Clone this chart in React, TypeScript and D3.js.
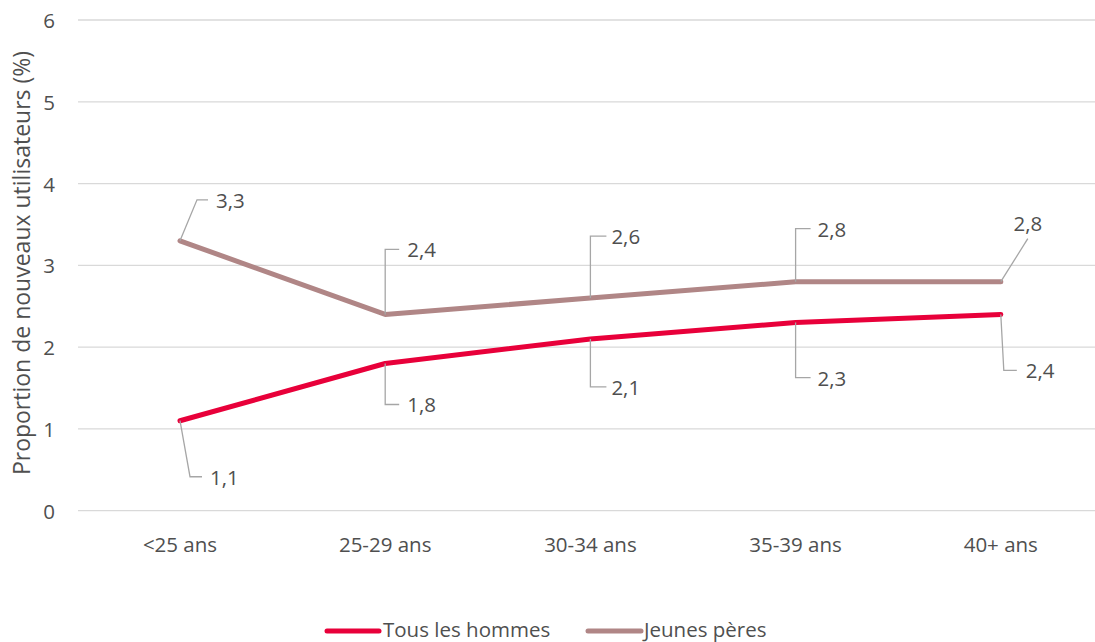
import React from "react";
import * as d3 from "d3";

// Age groups on the x axis
const categories: string[] = ["<25 ans", "25-29 ans", "30-34 ans", "35-39 ans", "40+ ans"];
// Share of new users (%) per age group
const tousLesHommes: number[] = [1.1, 1.8, 2.1, 2.3, 2.4];
const jeunesPeres: number[] = [3.3, 2.4, 2.6, 2.8, 2.8];
const yTicks: number[] = [0, 1, 2, 3, 4, 5, 6];
const seriesNames: string[] = ["Tous les hommes", "Jeunes pères"];

// Leader-line geometry for the data labels: [leaderEndDx, leaderEndDy, hookLength, textGap]
const labelLayoutPeres: [number, number, number, number][] = [
  [17, -41, 11, 8],
  [0, -65, 14, 8],
  [0, -62, 16, 5],
  [0, -53, 15, 7],
  [27, -43, 0, 0],
];
const labelLayoutHommes: [number, number, number, number][] = [
  [10, 56, 12, 8],
  [0, 41, 14, 8],
  [0, 48, 16, 5],
  [0, 55, 15, 7],
  [3, 56, 13, 9],
];

const W = 1095;
const H = 642;
const FONT = "'Open Sans', 'Liberation Sans', sans-serif";
const FS = 20.5;
const TEXT = "#4F4F4F";
const GRID = "#D9D9D9";
const LEADER = "#A6A6A6";
const RED = "#E8003A";
const BROWN = "#B08686";

const fmt = (v: number) => v.toFixed(1).replace(".", ",");

export default function App() {
  const x = d3.scaleBand<string>().domain(categories).range([77.4, 1103.4]).padding(0);
  const cx = (c: string) => (x(c) ?? 0) + x.bandwidth() / 2;
  const y = d3.scaleLinear().domain([0, 6]).range([510.7, 20]);

  const line = d3
    .line<number>()
    .x((_, i) => cx(categories[i]))
    .y((d) => y(d));

  const renderLabels = (values: number[], layout: [number, number, number, number][]) =>
    values.map((v, i) => {
      const px = cx(categories[i]);
      const py = y(v);
      const [dx, dy, hook, gap] = layout[i];
      const ex = px + dx;
      const ey = py + dy;
      if (hook === 0) {
        // leader ends under the label text
        return (
          <g key={i}>
            <path d={`M${px},${py}L${ex},${ey}`} stroke={LEADER} strokeWidth={1.3} fill="none" />
            <text x={ex} y={ey - 16} textAnchor="middle" dominantBaseline="central" fontSize={FS} fill={TEXT} fontFamily={FONT}>
              {fmt(v)}
            </text>
          </g>
        );
      }
      return (
        <g key={i}>
          <path d={`M${px},${py}L${ex},${ey}L${ex + hook},${ey}`} stroke={LEADER} strokeWidth={1.3} fill="none" />
          <text x={ex + hook + gap} y={ey} dominantBaseline="central" fontSize={FS} fill={TEXT} fontFamily={FONT}>
            {fmt(v)}
          </text>
        </g>
      );
    });

  return (
    <div style={{ position: "absolute", left: 0, top: 0 }}>
      <svg width={W} height={H} style={{ display: "block", background: "#fff" }}>
        {/* grid */}
        {yTicks.map((t) => (
          <line key={t} x1={78} x2={1104} y1={y(t)} y2={y(t)} stroke={GRID} strokeWidth={1.3} />
        ))}
        {/* y tick labels */}
        {yTicks.map((t) => (
          <text key={t} x={55} y={y(t)} textAnchor="end" dominantBaseline="central" fontSize={FS} fill={TEXT} fontFamily={FONT}>
            {t}
          </text>
        ))}
        {/* y axis title */}
        <text
          transform="translate(21,263) rotate(-90)"
          textAnchor="middle"
          dominantBaseline="central"
          fontSize={23}
          fill={TEXT}
          fontFamily={FONT}
        >
          Proportion de nouveaux utilisateurs (%)
        </text>
        {/* x labels */}
        {categories.map((c) => (
          <text key={c} x={cx(c)} y={544} textAnchor="middle" dominantBaseline="central" fontSize={FS} fill={TEXT} fontFamily={FONT}>
            {c}
          </text>
        ))}
        {/* lines */}
        <path d={line(jeunesPeres) ?? ""} stroke={BROWN} strokeWidth={5} fill="none" strokeLinejoin="round" strokeLinecap="round" />
        <path d={line(tousLesHommes) ?? ""} stroke={RED} strokeWidth={5} fill="none" strokeLinejoin="round" strokeLinecap="round" />
        {/* data labels */}
        {renderLabels(jeunesPeres, labelLayoutPeres)}
        {renderLabels(tousLesHommes, labelLayoutHommes)}
        {/* legend */}
        <g>
          <line x1={327} x2={379} y1={631} y2={631} stroke={RED} strokeWidth={5} strokeLinecap="round" />
          <text x={383} y={629} dominantBaseline="central" fontSize={FS} fill={TEXT} fontFamily={FONT}>
            {seriesNames[0]}
          </text>
          <line x1={588} x2={641} y1={631} y2={631} stroke={BROWN} strokeWidth={5} strokeLinecap="round" />
          <text x={644} y={629} dominantBaseline="central" fontSize={FS} fill={TEXT} fontFamily={FONT}>
            {seriesNames[1]}
          </text>
        </g>
      </svg>
    </div>
  );
}
